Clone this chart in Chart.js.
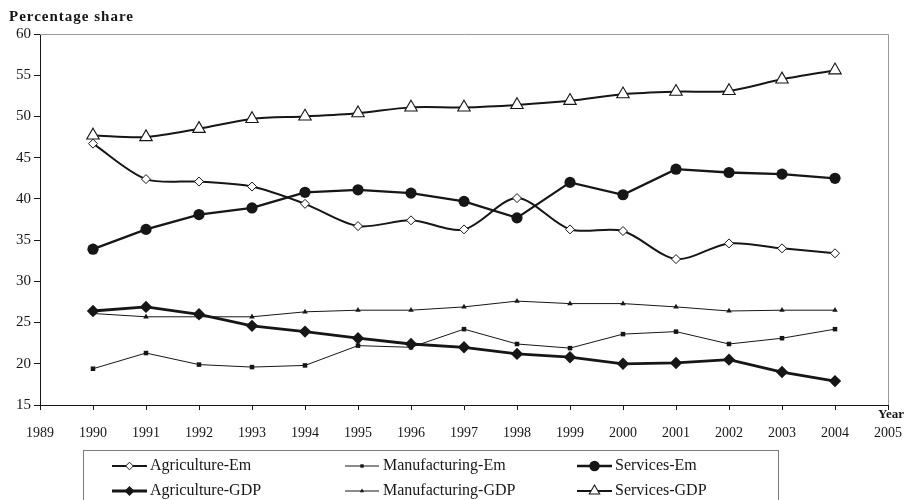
<!DOCTYPE html>
<html>
<head>
<meta charset="utf-8">
<script src="https://cdn.jsdelivr.net/npm/chart.js@4/dist/chart.umd.min.js"></script>
<style>
  html, body { margin: 0; padding: 0; background: #fff; }
  canvas { display: block; }
</style>
</head>
<body>
<canvas id="chart" width="907" height="500"></canvas>
<script>
// Sector shares of employment (Em) and GDP, per cent
const years = [1990, 1991, 1992, 1993, 1994, 1995, 1996, 1997, 1998, 1999, 2000, 2001, 2002, 2003, 2004];
const agricultureEm    = [46.7, 42.4, 42.1, 41.5, 39.4, 36.7, 37.4, 36.3, 40.1, 36.3, 36.1, 32.7, 34.6, 34.0, 33.4];
const manufacturingEm  = [19.4, 21.3, 19.9, 19.6, 19.8, 22.2, 22.0, 24.2, 22.4, 21.9, 23.6, 23.9, 22.4, 23.1, 24.2];
const servicesEm       = [33.9, 36.3, 38.1, 38.9, 40.8, 41.1, 40.7, 39.7, 37.7, 42.0, 40.5, 43.6, 43.2, 43.0, 42.5];
const agricultureGdp   = [26.4, 26.9, 26.0, 24.6, 23.9, 23.1, 22.4, 22.0, 21.2, 20.8, 20.0, 20.1, 20.5, 19.0, 17.9];
const manufacturingGdp = [26.1, 25.7, 25.7, 25.7, 26.3, 26.5, 26.5, 26.9, 27.6, 27.3, 27.3, 26.9, 26.4, 26.5, 26.5];
const servicesGdp      = [47.7, 47.5, 48.5, 49.7, 50.0, 50.4, 51.1, 51.1, 51.4, 51.9, 52.7, 53.0, 53.1, 54.5, 55.6];

const yTicks = [15, 20, 25, 30, 35, 40, 45, 50, 55, 60];
const xTickYears = [1989, 1990, 1991, 1992, 1993, 1994, 1995, 1996, 1997, 1998, 1999, 2000, 2001, 2002, 2003, 2004, 2005];

const INK = '#161616';
const SERIF = "'Liberation Serif', 'Times New Roman', serif";

function series(label, values, style) {
  return Object.assign({
    label,
    data: years.map((yr, i) => ({ x: yr, y: values[i] })),
    borderColor: INK,
    pointBorderColor: INK,
    pointBackgroundColor: INK,
    pointHoverRadius: style.pointRadius,
    clip: false,
    tension: 0
  }, style);
}

const datasets = [
  series('Agriculture-Em', agricultureEm, {
    borderWidth: 2, pointStyle: 'rectRot', pointRadius: 4.5,
    pointBackgroundColor: '#fff', pointBorderWidth: 1, tension: 0.3,
    legendRadius: 3.8
  }),
  series('Manufacturing-Em', manufacturingEm, {
    borderWidth: 1, pointStyle: 'rect', pointRadius: 3.2, pointBorderWidth: 0,
    legendRadius: 2.4
  }),
  series('Services-Em', servicesEm, {
    borderWidth: 2.3, pointStyle: 'circle', pointRadius: 5.6, pointBorderWidth: 0,
    legendRadius: 5.2
  }),
  series('Agriculture-GDP', agricultureGdp, {
    borderWidth: 2.8, pointStyle: 'rectRot', pointRadius: 6.2, pointBorderWidth: 0,
    legendRadius: 5
  }),
  series('Manufacturing-GDP', manufacturingGdp, {
    borderWidth: 1, pointStyle: 'triangle', pointRadius: 3.2, pointBorderWidth: 0,
    legendRadius: 2.6
  }),
  series('Services-GDP', servicesGdp, {
    borderWidth: 2, pointStyle: 'triangle', pointRadius: 7.2,
    pointBackgroundColor: '#fff', pointBorderWidth: 1.1, tension: 0.3,
    legendRadius: 6
  })
];

function drawMarker(ctx, style, x, y, r, fill, stroke, lw) {
  ctx.beginPath();
  if (style === 'rectRot') {
    ctx.moveTo(x, y - r); ctx.lineTo(x + r, y); ctx.lineTo(x, y + r); ctx.lineTo(x - r, y);
  } else if (style === 'rect') {
    const s = r * Math.SQRT1_2;
    ctx.rect(x - s, y - s, 2 * s, 2 * s);
  } else if (style === 'triangle') {
    for (let k = 0; k < 3; k++) {
      const a = k * 2 * Math.PI / 3;
      const px = x + Math.sin(a) * r, py = y - Math.cos(a) * r;
      if (k === 0) ctx.moveTo(px, py); else ctx.lineTo(px, py);
    }
  } else {
    ctx.arc(x, y, r, 0, Math.PI * 2);
  }
  ctx.closePath();
  ctx.fillStyle = fill; ctx.fill();
  if (lw > 0) { ctx.lineWidth = lw; ctx.strokeStyle = stroke; ctx.stroke(); }
}

// Frame, axis captions and the boxed legend
const decorations = {
  id: 'decorations',
  afterDraw(chart) {
    const ctx = chart.ctx;
    const a = chart.chartArea;
    ctx.save();

    // grey top and right edges of the plot frame
    ctx.strokeStyle = '#9a9a9a';
    ctx.lineWidth = 1;
    ctx.beginPath();
    ctx.moveTo(a.left, a.top + 0.5); ctx.lineTo(a.right + 0.5, a.top + 0.5); ctx.lineTo(a.right + 0.5, a.bottom);
    ctx.stroke();

    // axis captions
    ctx.fillStyle = INK;
    ctx.textBaseline = 'middle';
    ctx.font = 'bold 15px ' + SERIF;
    ctx.textAlign = 'left';
    ctx.letterSpacing = '1px';
    ctx.fillText('Percentage share', 9, 17);
    ctx.letterSpacing = '0px';
    ctx.font = 'bold 13px ' + SERIF;
    ctx.textAlign = 'center';
    ctx.fillText('Year', 891, 415);

    // legend box
    ctx.strokeStyle = '#7a7a7a';
    ctx.lineWidth = 1;
    ctx.strokeRect(83.5, 450.5, 695, 60);

    const cols = [{ x0: 112, x1: 147, tx: 150 }, { x0: 345, x1: 379, tx: 383 }, { x0: 577, x1: 612, tx: 615 }];
    const rows = [466, 491];
    ctx.font = '16px ' + SERIF;
    ctx.textAlign = 'left';
    chart.data.datasets.forEach((ds, i) => {
      const c = cols[i % 3], yy = rows[Math.floor(i / 3)];
      ctx.strokeStyle = INK;
      ctx.lineWidth = ds.borderWidth;
      ctx.beginPath(); ctx.moveTo(c.x0, yy); ctx.lineTo(c.x1, yy); ctx.stroke();
      drawMarker(ctx, ds.pointStyle, (c.x0 + c.x1) / 2, yy, ds.legendRadius,
        ds.pointBackgroundColor, ds.pointBorderColor, ds.pointBorderWidth);
      ctx.fillStyle = INK;
      ctx.fillText(ds.label, c.tx, yy);
    });
    ctx.restore();
  }
};

new Chart(document.getElementById('chart'), {
  type: 'line',
  data: { datasets },
  options: {
    responsive: false,
    animation: false,
    events: [],
    layout: { padding: { left: 0, top: 34, right: 19, bottom: 55 } },
    plugins: { legend: { display: false }, tooltip: { enabled: false } },
    scales: {
      x: {
        type: 'linear',
        min: xTickYears[0],
        max: xTickYears[xTickYears.length - 1],
        afterBuildTicks: s => { s.ticks = xTickYears.map(v => ({ value: v })); },
        afterFit: s => { s.height = 40; s.paddingLeft = 0; s.paddingRight = 0; },
        border: { display: true, color: INK, width: 1 },
        grid: { drawOnChartArea: false, drawTicks: true, tickLength: 5, color: INK },
        ticks: {
          color: INK, padding: 15, maxRotation: 0, autoSkip: false,
          font: { family: SERIF, size: 14 },
          callback: v => String(v)
        }
      },
      y: {
        min: yTicks[0],
        max: yTicks[yTicks.length - 1],
        afterBuildTicks: s => { s.ticks = yTicks.map(v => ({ value: v })); },
        afterFit: s => { s.width = 40; s.paddingTop = 0; s.paddingBottom = 0; },
        border: { display: true, color: INK, width: 1 },
        grid: { drawOnChartArea: false, drawTicks: true, tickLength: 6, color: INK },
        ticks: {
          color: INK, padding: 3,
          font: { family: SERIF, size: 15 },
          callback: v => String(v)
        }
      }
    }
  },
  plugins: [decorations]
});
</script>
</body>
</html>
